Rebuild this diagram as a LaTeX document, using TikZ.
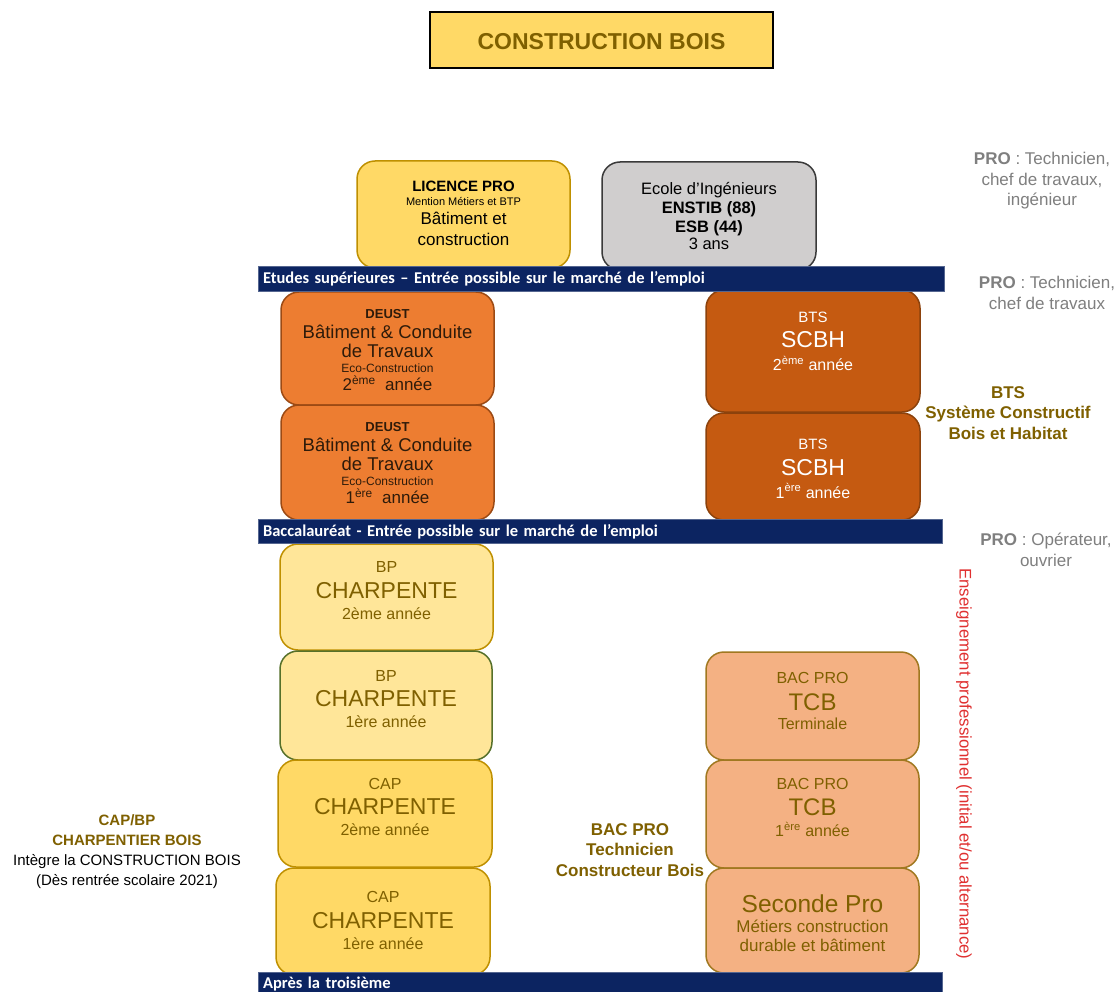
\documentclass[tikz,border=0pt]{standalone}
\usepackage{fontspec}
\setmainfont{Liberation Sans}
\newfontfamily\barfont{Carlito}
\newcommand\fsz[1]{\fontsize{#1}{\dimexpr #1pt*6/5\relax}\selectfont}
\newcommand\fsn[1]{\fontsize{#1}{0pt}\selectfont}
% one line of a box: size, extra height, extra depth, text
\newcommand\lline[4]{{\fsn{#1}\rule[\dimexpr-0.25em-#3\relax]{0pt}{\dimexpr1.05em+#2+#3\relax}#4}}
\definecolor{titlefill}{HTML}{FFD966}
\definecolor{olive}{HTML}{7F6000}
\definecolor{navy}{HTML}{0C2461}
\definecolor{lpfill}{HTML}{FFD966}
\definecolor{lpborder}{HTML}{BF9000}
\definecolor{ecfill}{HTML}{D0CECE}
\definecolor{ecborder}{HTML}{3A3A3A}
\definecolor{deustfill}{HTML}{ED7D31}
\definecolor{deustborder}{HTML}{9C4A14}
\definecolor{deusttext}{HTML}{2E1B0A}
\definecolor{btsfill}{HTML}{C55A11}
\definecolor{btsborder}{HTML}{8C420C}
\definecolor{bpfill}{HTML}{FFE699}
\definecolor{bpgreen}{HTML}{56702A}
\definecolor{capfill}{HTML}{FFD966}
\definecolor{bacfill}{HTML}{F4B183}
\definecolor{bacborder}{HTML}{A07820}
\definecolor{graytext}{HTML}{7F7F7F}
\definecolor{redtext}{HTML}{E03030}
\tikzset{
  box/.style={rounded corners=18pt, line width=1.5pt, align=center, inner sep=0pt,
    minimum width=213pt, minimum height=107pt, font=\fsn{10}},
  bar/.style={fill=navy, draw=navy!70!white, line width=0.8pt, text=white, inner sep=5pt,
    minimum height=22pt, font=\barfont\bfseries\fsz{16.5}, align=left},
  side/.style={align=center, inner sep=0pt},
}
\begin{document}
\begin{tikzpicture}[x=1pt,y=-1pt]
\useasboundingbox (0,0) rectangle (1116,992);
\fill[white] (0,0) rectangle (1116,992);

% title
\node[fill=titlefill, draw=black, line width=1.5pt, minimum width=343pt, minimum height=56pt,
  text=olive, font=\bfseries\fsz{23}, text depth=0pt, text height=19pt] (title) at (601.5,40) {CONSTRUCTION BOIS};

% top boxes
\node[box, fill=lpfill, draw=lpborder, text=black] (lp) at (463.5,214.5)
 {\lline{15}{0pt}{0pt}{\bfseries LICENCE PRO}\\
  \lline{11}{0pt}{0pt}{Mention Métiers et BTP}\\[1.7pt]
  \lline{17}{0pt}{0pt}{Bâtiment et}\\[2.1pt]
  \lline{17}{0pt}{0pt}{construction}};
\node[box, fill=ecfill, draw=ecborder, text=black, minimum width=214pt, minimum height=108pt] (ec) at (709,216)
 {\lline{16.5}{3pt}{0pt}{Ecole d’Ingénieurs}\\[0.8pt]
  \lline{16.5}{0pt}{0pt}{\bfseries ENSTIB (88)}\\[0.8pt]
  \lline{16.5}{0pt}{0pt}{\bfseries ESB (44)}\\[-1.2pt]
  \lline{16.5}{0pt}{0pt}{3 ans}};

% DEUST
\node[box, fill=deustfill, draw=deustborder, text=deusttext, minimum height=113pt] (d2) at (387.5,348.5)
 {\lline{13}{6pt}{0pt}{\bfseries DEUST}\\[1pt]
  \lline{18.5}{0pt}{0pt}{Bâtiment \& Conduite}\\[-1.4pt]
  \lline{18.5}{0pt}{0pt}{de Travaux}\\[-0.6pt]
  \lline{12}{0pt}{0pt}{Eco-Construction}\\[-0.8pt]
  \lline{17}{0pt}{0pt}{2\textsuperscript{ème}~~année}};
\node[box, fill=deustfill, draw=deustborder, text=deusttext, minimum height=115pt] (d1) at (387.5,462.5)
 {\lline{13}{3.5pt}{0pt}{\bfseries DEUST}\\[1pt]
  \lline{18.5}{0pt}{0pt}{Bâtiment \& Conduite}\\[-1.4pt]
  \lline{18.5}{0pt}{0pt}{de Travaux}\\[-0.6pt]
  \lline{12}{0pt}{0pt}{Eco-Construction}\\[-0.8pt]
  \lline{17}{0pt}{0pt}{1\textsuperscript{ère}~~année}};

% BTS
\node[box, fill=btsfill, draw=btsborder, text=white, minimum width=214pt, minimum height=122pt] (b2) at (813,351)
 {\lline{15}{0pt}{0pt}{BTS}\\[2.2pt]
  \lline{23}{0pt}{0pt}{SCBH}\\[1.5pt]
  \lline{16}{0pt}{17pt}{2\textsuperscript{ème} année}};
\node[box, fill=btsfill, draw=btsborder, text=white, minimum width=214pt, minimum height=107pt] (b1) at (813,466.5)
 {\lline{15}{7pt}{0pt}{BTS}\\[2.2pt]
  \lline{23}{0pt}{0pt}{SCBH}\\[1.5pt]
  \lline{16}{0pt}{0pt}{1\textsuperscript{ère} année}};

% BP
\node[box, fill=bpfill, draw=lpborder, text=olive, minimum height=106pt] (bp2) at (386.5,597)
 {\lline{16}{0pt}{0pt}{BP}\\[2.2pt]
  \lline{23}{0pt}{0pt}{CHARPENTE}\\[1.2pt]
  \lline{16}{0pt}{10.7pt}{2ème année}};
\node[box, fill=bpfill, draw=bpgreen, text=olive, minimum width=212pt, minimum height=109pt] (bp1) at (386,705.5)
 {\lline{16}{0pt}{0pt}{BP}\\[2.2pt]
  \lline{23}{0pt}{0pt}{CHARPENTE}\\[1.2pt]
  \lline{16}{0pt}{10.7pt}{1ère année}};

% CAP
\node[box, fill=capfill, draw=lpborder, text=olive, minimum width=214pt] (cap2) at (385,813.5)
 {\lline{16}{0pt}{0pt}{CAP}\\[2.2pt]
  \lline{23}{0pt}{0pt}{CHARPENTE}\\[1.2pt]
  \lline{16}{0pt}{11pt}{2ème année}};
\node[box, fill=capfill, draw=lpborder, text=olive, minimum width=214pt] (cap1) at (383,921.5)
 {\lline{16}{0pt}{0pt}{CAP}\\[2.2pt]
  \lline{23}{0pt}{0pt}{CHARPENTE}\\[1.2pt]
  \lline{16}{0pt}{0pt}{1ère année}};

% BAC PRO
\node[box, fill=bacfill, draw=bacborder, text=olive, minimum height=108pt] (bact) at (812.5,706)
 {\lline{16}{0pt}{0pt}{BAC PRO}\\[2pt]
  \lline{24}{0pt}{0pt}{TCB}\\[-0.5pt]
  \lline{16}{0pt}{7.6pt}{Terminale}};
\node[box, fill=bacfill, draw=bacborder, text=olive, minimum height=108pt] (bac1) at (812.5,814)
 {\lline{16}{0pt}{0pt}{BAC PRO}\\[2pt]
  \lline{24}{0pt}{0pt}{TCB}\\[0pt]
  \lline{16}{0pt}{11pt}{1\textsuperscript{ère} année}};
\node[box, fill=bacfill, draw=bacborder, text=olive, minimum height=105pt] (sec) at (812.5,920.5)
 {\lline{24.5}{6.8pt}{0pt}{Seconde Pro}\\[-0.7pt]
  \lline{17}{0pt}{0pt}{Métiers construction}\\[0.15pt]
  \lline{17}{0pt}{0pt}{durable et bâtiment}};

% bars
\node[bar, minimum width=686pt, text width=676pt] (bar1) at (601,279)
 {Etudes supérieures – Entrée possible sur le marché de l’emploi};
\node[bar, minimum width=684pt, text width=674pt, minimum height=23pt] (bar2) at (600,531.5)
 {Baccalauréat - Entrée possible sur le marché de l’emploi};
\node[bar, minimum width=684pt, text width=674pt, minimum height=22pt] (bar3) at (600,984)
 {Après la troisième};

% side labels
\node[side, text=graytext, font=\fsz{17}] (pro1) at (1042,181)
 {\textbf{PRO} : Technicien,\\chef de travaux,\\ingénieur};
\node[side, text=graytext, font=\fsz{17}] (pro2) at (1047,293)
 {\textbf{PRO} : Technicien,\\chef de travaux};
\node[side, text=graytext, font=\fsz{17}] (pro3) at (1046,550)
 {\textbf{PRO} : Opérateur,\\ouvrier};
\node[side, text=olive, font=\bfseries\fsz{17}] (btslab) at (1008,413)
 {BTS\\Système Constructif\\Bois et Habitat};
\node[side, text=redtext, font=\fsz{16.8}, rotate=-90] (ens) at (964,764)
 {Enseignement professionnel (initial et/ou alternance)};
\node[side, font=\fsz{15}] (caplab) at (127,852)
 {\textcolor{olive}{\textbf{CAP/BP}}\\[2pt]\textcolor{olive}{\textbf{CHARPENTIER BOIS}}\\[2pt]Intègre la CONSTRUCTION BOIS\\[2pt](Dès rentrée scolaire 2021)};
\node[side, text=olive, font=\bfseries\fsz{17}] (baclab) at (630,850)
 {BAC PRO\\Technicien\\Constructeur Bois};
\end{tikzpicture}
\end{document}
